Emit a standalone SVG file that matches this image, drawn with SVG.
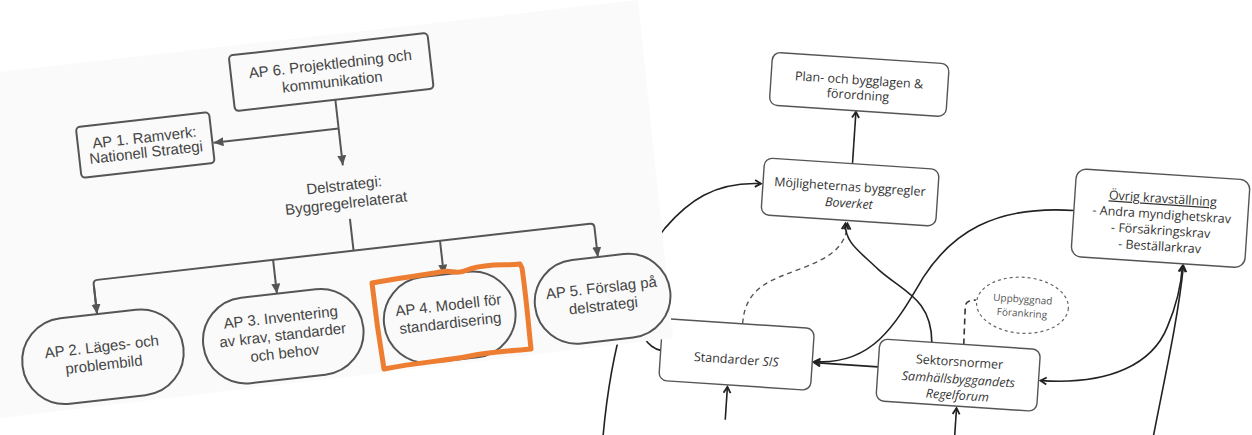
<svg xmlns="http://www.w3.org/2000/svg" width="1252" height="435" viewBox="0 0 1252 435">
<defs>
<marker id="tri" markerUnits="userSpaceOnUse" markerWidth="11" markerHeight="10" refX="10" refY="4.5" orient="auto"><path d="M0,0 L10,4.5 L0,9 Z" fill="#555"/></marker>
<marker id="chev" markerUnits="userSpaceOnUse" markerWidth="10" markerHeight="10" refX="7.5" refY="4.5" orient="auto-start-reverse"><path d="M1.5,1 L7.5,4.5 L1.5,8" fill="none" stroke="#222" stroke-width="1.8"/></marker>
</defs>
<style>
.lt{font-family:"Liberation Sans",Arial,sans-serif;font-size:15px;fill:#444;text-anchor:middle}
.lb{fill:none;stroke:#555;stroke-width:2}
.lc{fill:none;stroke:#555;stroke-width:2}
.rt{font-family:"Open Sans","Noto Sans",sans-serif;font-size:12.5px;fill:#333;text-anchor:middle}
.rs{font-family:"Open Sans","Noto Sans",sans-serif;font-size:10px;fill:#555;text-anchor:middle}
.rb{fill:#fff;stroke:#555;stroke-width:1.4}
.rc{fill:none;stroke:#222;stroke-width:1.6}
.it{font-style:italic}
</style>
<rect x="0" y="0" width="1252" height="435" fill="#fff"/>

<!-- right diagram -->
<g id="right" transform="rotate(3.8 960 250)">
  <g id="connectors-right">
    <path class="rc" d="M616,470 C 617,370 636,290 664,248 C 685,220 710,198 757,197" marker-end="url(#chev)"/>
    <path class="rc" d="M640,330 C 645,355 655,368 668,370"/>
    <path d="M748,338 C 748,300 775,292 805,278 C 835,264 846,252 846,231" fill="none" stroke="#555" stroke-width="1.4" stroke-dasharray="5 4" marker-end="url(#chev)"/>
    <path class="rc" d="M938,344 C 935,300 905,295 880,275 C 860,258 844,250 844,231" marker-end="url(#chev)"/>
    <path class="rc" d="M1071,203 C 990,203 950,235 925,280 C 900,330 880,371 822,371" marker-end="url(#chev)"/>
    <path class="rc" d="M886,372 L822,372" marker-end="url(#chev)"/>
    <path class="rc" d="M1049,375 C 1120,375 1160,350 1172,313 C 1180,290 1183,270 1183,251" marker-start="url(#chev)" marker-end="url(#chev)"/>
    <path class="rc" d="M1162,450 C 1170,380 1182,310 1184,251" marker-end="url(#chev)"/>
    <path class="rc" d="M737,435 L737,402" marker-end="url(#chev)"/>
    <path class="rc" d="M967,455 L967,408" marker-end="url(#chev)"/>
    <path class="rc" d="M847,171 L847,119" marker-end="url(#chev)"/>
    <path d="M970,344 L969,306 Q969,299 979,299" fill="none" stroke="#333" stroke-width="1.6" stroke-dasharray="6 4"/>
  </g>
  <g id="plan">
    <rect class="rb" x="760" y="65" width="177" height="53" rx="8"/>
    <text class="rt" x="848" y="91.5">Plan- och bygglagen &amp;</text>
    <text class="rt" x="848" y="106.5">förordning</text>
  </g>
  <g id="mojligheternas">
    <rect class="rb" x="759" y="171" width="175" height="57" rx="8"/>
    <text class="rt" x="846" y="198.5">Möjligheternas byggregler</text>
    <text class="rt it" x="846" y="215">Boverket</text>
  </g>
  <g id="standarder">
    <rect class="rb" x="668" y="338" width="152" height="62" rx="8"/>
    <text class="rt" x="744" y="378.5">Standarder <tspan class="it">SIS</tspan></text>
  </g>
  <g id="sektorsnormer">
    <rect class="rb" x="886" y="344" width="161" height="62" rx="8"/>
    <text class="rt" x="967" y="366">Sektorsnormer</text>
    <text class="rt it" x="967" y="383.5">Samhällsbyggandets</text>
    <text class="rt it" x="967" y="399.5">Regelforum</text>
  </g>
  <g id="ovrig">
    <rect class="rb" x="1071" y="161" width="174" height="88" rx="10"/>
    <text class="rt" x="1159" y="189.5" text-decoration="underline">Övrig kravställning</text>
    <text class="rt" x="1159" y="205.5">- Andra myndighetskrav</text>
    <text class="rt" x="1159" y="221.5">- Försäkringskrav</text>
    <text class="rt" x="1159" y="237.5">- Beställarkrav</text>
  </g>
  <g id="uppbyggnad">
    <ellipse cx="1026" cy="301" rx="46" ry="28" fill="none" stroke="#666" stroke-width="1.2" stroke-dasharray="3 3"/>
    <text class="rs" x="1026" y="298.5">Uppbyggnad</text>
    <text class="rs" x="1026" y="312.5">Förankring</text>
  </g>
</g>

<!-- left paper -->
<polygon points="0,72 638,0 673,338 0,418" fill="#fafafa"/>

<g id="left" transform="rotate(-6.5 340 220)">
  <g id="connectors-left">
    <path class="lc" d="M349,100 L349,166" marker-end="url(#tri)"/>
    <path class="lc" d="M349,129 L223,129" marker-end="url(#tri)"/>
    <path class="lc" d="M350,220 L350,252"/>
    <path class="lc" d="M88,286 L88,256 Q88,252 92,252 L588,252 Q592,252 592,256 L592,286" marker-end="url(#tri)"/>
    <path class="lc" d="M88,258 L88,286" marker-end="url(#tri)"/>
    <path class="lc" d="M269,252 L269,286" marker-end="url(#tri)"/>
    <path class="lc" d="M437,252 L437,286" marker-end="url(#tri)"/>
  </g>
  <g id="ap6">
    <rect class="lb" x="248" y="44" width="200" height="56" rx="4"/>
    <text class="lt" x="348" y="69">AP 6. Projektledning och</text>
    <text class="lt" x="348" y="87">kommunikation</text>
  </g>
  <g id="ap1">
    <rect class="lb" x="88" y="98" width="134" height="51" rx="4"/>
    <text class="lt" x="155" y="121">AP 1. Ramverk:</text>
    <text class="lt" x="155" y="136">Nationell Strategi</text>
  </g>
  <g id="delstrategi">
    <text class="lt" x="348" y="191">Delstrategi:</text>
    <text class="lt" x="348" y="209">Byggregelrelaterat</text>
  </g>
  <g id="ap2">
    <rect class="lb" x="8" y="286" width="162" height="86" rx="43"/>
    <text class="lt" x="89" y="324">AP 2. Läges- och</text>
    <text class="lt" x="89" y="342">problembild</text>
  </g>
  <g id="ap3">
    <rect class="lb" x="190" y="286" width="161" height="86" rx="43"/>
    <text class="lt" x="270" y="315">AP 3. Inventering</text>
    <text class="lt" x="270" y="333">av krav, standarder</text>
    <text class="lt" x="270" y="351">och behov</text>
  </g>
  <g id="ap4">
    <rect class="lb" x="372" y="286" width="132" height="86" rx="43"/>
    <text class="lt" x="438" y="322">AP 4. Modell för</text>
    <text class="lt" x="438" y="340">standardisering</text>
  </g>
  <g id="ap5">
    <rect class="lb" x="524" y="286" width="136" height="84" rx="42"/>
    <text class="lt" x="592" y="322">AP 5. Förslag på</text>
    <text class="lt" x="592" y="340">delstrategi</text>
  </g>
</g>

<g id="highlight">
  <path d="M372,283 C 395,278 420,276 440,272 C 455,269 452,276 470,269 C 490,263 505,266 520,264 L522,268 C 526,295 528,320 531,349 C 510,351 490,352 470,356 C 445,361 420,362 384,369 C 380,345 375,310 372,283 Z" fill="none" stroke="#ED7D31" stroke-width="5" stroke-linejoin="round"/>
</g>
</svg>
